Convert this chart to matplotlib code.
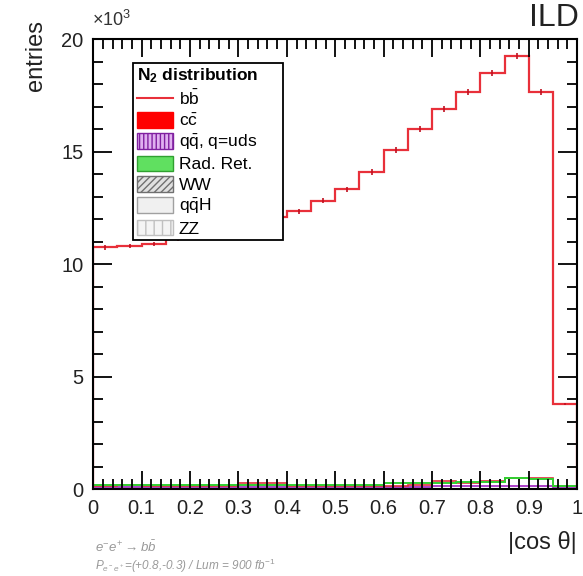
import numpy as np
import matplotlib.pyplot as plt
from matplotlib.lines import Line2D
from matplotlib.patches import Patch
from matplotlib.ticker import MultipleLocator

plt.rcParams['font.family'] = ['Liberation Sans', 'DejaVu Sans']
plt.rcParams['mathtext.fontset'] = 'custom'
plt.rcParams['mathtext.rm'] = 'Liberation Sans'
plt.rcParams['mathtext.it'] = 'Liberation Sans:italic'
plt.rcParams['mathtext.bf'] = 'Liberation Sans:bold'

# bin edges in |cos theta|
edges = [0.0, 0.05, 0.1, 0.15, 0.2, 0.25, 0.3, 0.35, 0.4, 0.45, 0.5,
         0.55, 0.6, 0.65, 0.7, 0.75, 0.8, 0.85, 0.9, 0.95, 1.0]

# entries (x10^3)
bb = [10.75, 10.8, 10.9, 11.15, 11.4, 11.65, 11.9, 12.1, 12.35, 12.82,
      13.32, 14.1, 15.07, 16.0, 16.9, 17.63, 18.5, 19.24, 17.63, 3.78]
cc = [0.12, 0.2, 0.12, 0.12, 0.12, 0.12, 0.28, 0.28, 0.12, 0.12,
      0.12, 0.15, 0.15, 0.2, 0.35, 0.25, 0.35, 0.5, 0.5, 0.12]
qq = [0.08, 0.1, 0.08, 0.08, 0.08, 0.08, 0.1, 0.1, 0.08, 0.08,
      0.08, 0.1, 0.1, 0.1, 0.12, 0.12, 0.12, 0.15, 0.15, 0.05]
radret = [0.18, 0.18, 0.18, 0.18, 0.18, 0.18, 0.18, 0.18, 0.18, 0.2,
          0.2, 0.2, 0.25, 0.25, 0.25, 0.3, 0.3, 0.48, 0.45, 0.15]

edges = np.array(edges)
centers = 0.5 * (edges[:-1] + edges[1:])
bb = np.array(bb)
bb_err = np.sqrt(bb * 1000) / 1000

fig = plt.figure(figsize=(5.83, 5.76), dpi=100)
ax = fig.add_axes([0.16, 0.151, 0.83, 0.781])

ax.stairs(qq, edges, color='#a020c0', lw=1.2)
ax.stairs(cc, edges, color='#e03040', lw=1.2)
ax.stairs(radret, edges, color='#30d030', lw=1.4)
ax.stairs(bb, edges, color='#e8303a', lw=1.6)
ax.errorbar(centers, bb, yerr=bb_err, fmt='none', ecolor='#c01020', elinewidth=1.2)

ax.set_xlim(0, 1)
ax.set_ylim(0, 20)
ax.xaxis.set_minor_locator(MultipleLocator(0.02))
ax.yaxis.set_major_locator(MultipleLocator(5))
ax.yaxis.set_minor_locator(MultipleLocator(1))
ax.set_xticks(np.arange(0, 1.01, 0.1))
ax.set_xticklabels(['0', '0.1', '0.2', '0.3', '0.4', '0.5', '0.6', '0.7', '0.8', '0.9', '1'])
ax.tick_params(which='both', direction='in', top=True, right=True, labelsize=14.5,
               width=1.3, labelcolor='#222222')
ax.tick_params(which='major', length=14, pad=7)
ax.tick_params(which='minor', length=7)
ax.tick_params(axis='x', which='major', length=13)
for s in ax.spines.values():
    s.set_linewidth(1.5)

fig.text(0.062, 0.965, 'entries', rotation=90, ha='center', va='top', fontsize=17, color='#222222')
fig.text(0.99, 0.058, '|cos θ|', ha='right', va='center', fontsize=17, color='#222222')
fig.text(0.993, 0.968, 'ILD', ha='right', va='center', fontsize=23, color='#222222')
fig.text(0.158, 0.965, r'$\times10^{3}$', ha='left', va='center', fontsize=13, color='#333333')

fig.text(0.163, 0.05, r'$e^{-}e^{+}\rightarrow b\bar{b}$', fontsize=9.5, color='#999999',
         ha='left', va='center')
fig.text(0.163, 0.018, r'$P_{e^-e^+}$=(+0.8,-0.3) / Lum = 900 fb$^{-1}$', fontsize=8.5,
         color='#999999', ha='left', va='center', style='italic')

handles = [
    Line2D([], [], color='#e8303a', lw=1.5),
    Patch(facecolor='#ff0000', edgecolor='#ff0000'),
    Patch(facecolor='#e0b0f0', edgecolor='#8020a0', hatch='||||'),
    Patch(facecolor='#60e060', edgecolor='#30a030'),
    Patch(facecolor='#e0e0e0', edgecolor='#707070', hatch='/////'),
    Patch(facecolor='#f0f0f0', edgecolor='#a0a0a0'),
    Patch(facecolor='#f4f4f4', edgecolor='#c0c0c0', hatch='||'),
]
labels = [r'b$\mathrm{\bar{b}}$', r'c$\mathrm{\bar{c}}$', r'q$\mathrm{\bar{q}}$, q=uds',
          'Rad. Ret.', 'WW', r'q$\mathrm{\bar{q}}$H', 'ZZ']
leg = ax.legend(handles, labels, title=r'$\mathbf{N_2}$ distribution',
                loc='upper left', bbox_to_anchor=(0.083, 0.547, 0.31, 0.4), mode='expand',
                fontsize=12.5, frameon=True, fancybox=False, edgecolor='black',
                framealpha=1, borderpad=0.2, labelspacing=0.22, handlelength=2.1,
                handleheight=1.0, handletextpad=0.3, alignment='left', borderaxespad=0)
leg.get_title().set_fontweight('bold')
leg.get_title().set_fontsize(12.5)
leg.get_frame().set_linewidth(1.3)
leg.set_zorder(5)

fig.savefig('out.png', dpi=100)
